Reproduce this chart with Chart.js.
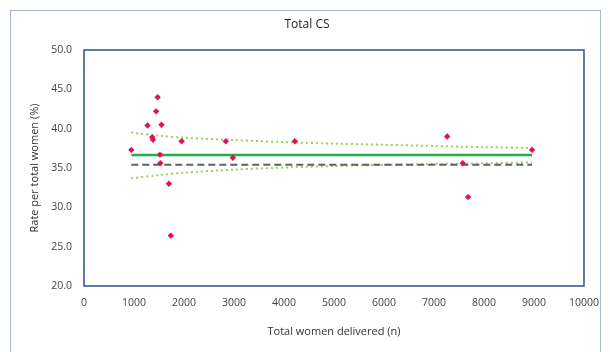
<!DOCTYPE html>
<html>
<head>
<meta charset="utf-8">
<script src="https://cdn.jsdelivr.net/npm/chart.js@4"></script>
<style>
  html, body { margin: 0; padding: 0; background: #fff; }
  #wrap { width: 610px; height: 352px; position: relative; }
</style>
</head>
<body>
<div id="wrap"><canvas id="funnel-chart"></canvas></div>
<script>
// hospital points (total women delivered, CS rate %)
const hospN = [946, 1271, 1364, 1380, 1442, 1473, 1519, 1527, 1550, 1698, 1736, 1953, 2837, 2977, 4217, 7264, 7574, 7682, 8961];
const hospRate = [37.3, 40.4, 38.9, 38.6, 42.2, 44.0, 36.7, 35.6, 40.5, 33.0, 26.4, 38.4, 38.4, 36.3, 38.4, 39.0, 35.6, 31.3, 37.3];

// reference lines
const lineX = [946, 8961];
const meanRate = [36.65, 36.65];
const targetRate = [35.4, 35.4];

// control limits
const limitX = [946, 1500, 2000, 3000, 4200, 5000, 6000, 7000, 8000, 8961];
const upperLimit = [39.5, 39.1, 38.85, 38.55, 38.25, 38.1, 37.95, 37.8, 37.65, 37.55];
const lowerLimit = [33.7, 34.1, 34.4, 34.8, 35.1, 35.25, 35.4, 35.5, 35.6, 35.7];

const xTicks = [0, 1000, 2000, 3000, 4000, 5000, 6000, 7000, 8000, 9000, 10000];
const yTicks = [20, 25, 30, 35, 40, 45, 50];

function pts(xs, ys) {
    return xs.map((x, i) => ({ x: x, y: ys[i] }));
}

const frame = {
    id: 'frame',
    beforeDraw(chart) {
        const ctx = chart.ctx;
        ctx.save();
        ctx.fillStyle = '#ffffff';
        ctx.fillRect(0, 0, chart.width, chart.height);
        ctx.strokeStyle = '#a9b8cc';
        ctx.lineWidth = 1;
        ctx.strokeRect(10.5, 10.5, 590, 400);
        // title
        ctx.fillStyle = '#222';
        ctx.font = '12px "Open Sans", sans-serif';
        ctx.textAlign = 'center';
        ctx.textBaseline = 'middle';
        ctx.fillText('Total CS', 307, 25);
        ctx.restore();
    },
    beforeDatasetsDraw(chart) {
        const a = chart.chartArea;
        const ctx = chart.ctx;
        ctx.save();
        ctx.strokeStyle = '#2e4f8c';
        ctx.lineWidth = 1.5;
        ctx.strokeRect(a.left, a.top, a.right - a.left, a.bottom - a.top);
        ctx.restore();
    }
};

const font = { family: '"Open Sans", sans-serif', size: 10.5 };

new Chart(document.getElementById('funnel-chart'), {
    type: 'scatter',
    data: {
        datasets: [
            {
                label: 'Hospitals',
                data: pts(hospN, hospRate),
                pointStyle: 'rectRot',
                pointRadius: 3.2,
                backgroundColor: '#e0105a',
                borderColor: '#e0105a',
                borderWidth: 0,
                order: 0
            },
            {
                label: 'Mean',
                data: pts(lineX, meanRate),
                showLine: true,
                pointRadius: 0,
                borderColor: '#1fb04c',
                borderWidth: 2.5,
                order: 2
            },
            {
                label: 'Target',
                data: pts(lineX, targetRate),
                showLine: true,
                pointRadius: 0,
                borderColor: '#606060',
                borderWidth: 2,
                borderDash: [7, 4],
                order: 3
            },
            {
                label: 'Upper limit',
                data: pts(limitX, upperLimit),
                showLine: true,
                pointRadius: 0,
                borderColor: '#9ccf55',
                borderWidth: 2,
                borderDash: [2, 3],
                tension: 0.3,
                order: 4
            },
            {
                label: 'Lower limit',
                data: pts(limitX, lowerLimit),
                showLine: true,
                pointRadius: 0,
                borderColor: '#9ccf55',
                borderWidth: 2,
                borderDash: [2, 3],
                tension: 0.3,
                order: 4
            }
        ]
    },
    options: {
        responsive: true,
        maintainAspectRatio: false,
        animation: false,
        layout: { padding: { left: 28, top: 50, right: 26, bottom: 12 } },
        plugins: {
            legend: { display: false },
            title: { display: false },
            tooltip: { enabled: false }
        },
        scales: {
            x: {
                type: 'linear',
                min: 0,
                max: 10000,
                afterBuildTicks: s => { s.ticks = xTicks.map(v => ({ value: v })); },
                afterFit: s => { s.height = 54; },
                grid: { display: false, drawTicks: false },
                border: { display: false },
                ticks: { color: '#444', font: font, padding: 11, maxRotation: 0, callback: v => String(v) },
                title: {
                    display: true,
                    text: 'Total women delivered (n)',
                    color: '#333',
                    font: { family: '"Open Sans", sans-serif', size: 11 },
                    padding: { top: 4, bottom: 2 }
                }
            },
            y: {
                type: 'linear',
                min: 20,
                max: 50,
                afterBuildTicks: s => { s.ticks = yTicks.map(v => ({ value: v })); },
                afterFit: s => { s.width = 56; },
                grid: { display: false, drawTicks: false },
                border: { display: false },
                ticks: {
                    color: '#444',
                    font: font,
                    padding: 12,
                    callback: v => v.toFixed(1)
                },
                title: {
                    display: true,
                    text: 'Rate per total women (%)',
                    color: '#333',
                    font: { family: '"Open Sans", sans-serif', size: 11 },
                    padding: { top: 0, bottom: 0 }
                }
            }
        }
    },
    plugins: [frame]
});
</script>
</body>
</html>
